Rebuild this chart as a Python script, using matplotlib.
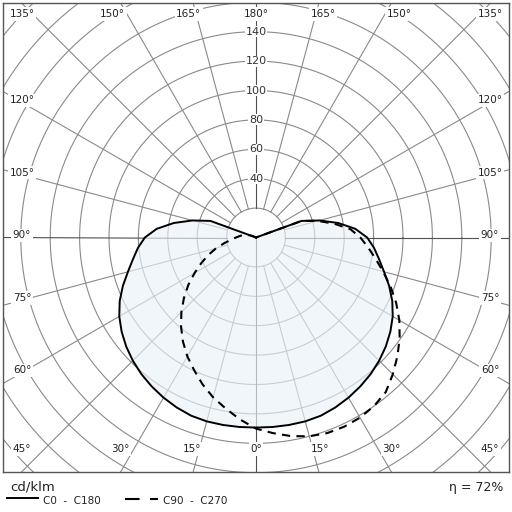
import numpy as np
import matplotlib
matplotlib.use('Agg')
import matplotlib.pyplot as plt
from matplotlib.lines import Line2D

# gamma angles (deg from nadir) and intensities in cd/klm
gamma = [0, 5, 10, 15, 20, 25, 30, 35, 40, 45, 50, 55, 60, 65, 70, 75, 80, 85,
         90, 95, 100, 105, 110, 115, 120, 135, 150, 165, 180]
c0_c180 = [129.3, 129.4, 129.5, 129.5, 129.0, 127.6, 125.8, 123.7, 121.3, 118.5, 115.3, 111.6,
           107.4, 102.3, 96.4, 90.2, 85.0, 80.6, 75.6, 67.8, 56.8, 44.8, 33.0, 0, 0, 0, 0, 0, 0]
c90 = [130.3, 133.6, 137.2, 140.0, 141.6, 142.0, 141.5, 140.0, 137.3, 131.6, 125.6, 119.3,
       112.6, 105.2, 97.4, 89.5, 82.5, 76.5, 71.0, 64.5, 54.0, 43.6, 33.0, 0, 0, 0, 0, 0, 0]
c270 = [130.0, 124.3, 118.2, 112.6, 106.3, 99.6, 93.4, 86.6, 79.3, 71.8, 64.0, 56.2, 48.2,
        41.0, 34.4, 28.0, 21.8, 17.0, 13.6, 11.2, 9.2, 7.0, 4.5, 2.0, 0, 0, 0, 0, 0]

ring_values = [40, 60, 80, 100, 120, 140]
eta_text = "\u03b7 = 72%"

PX = 1.47          # pixels per cd/klm
XL, YL = 506/2/PX, 469/2/PX
fig = plt.figure(figsize=(5.12, 5.12), dpi=100)
ax = fig.add_axes([3/512, 40/512, 506/512, 469/512])
ax.set_xlim(-XL, XL)
ax.set_ylim(-YL, YL)
ax.set_xticks([])
ax.set_yticks([])
for s in ax.spines.values():
    s.set_color('#555555')
    s.set_linewidth(1.0)

grid_c = '#8a8a8a'
t = np.linspace(0, 2*np.pi, 721)
for r in range(20, 260, 20):
    ax.plot(r*np.cos(t), r*np.sin(t), color=grid_c, lw=0.8, zorder=1)
R = 400
for a in range(0, 360, 15):
    rad = np.radians(a)
    r0 = 0 if a == 0 else 20
    col = '#505050' if a in (0, 90, 180, 270) else grid_c
    ax.plot([r0*np.sin(rad), R*np.sin(rad)], [-r0*np.cos(rad), -R*np.cos(rad)],
            color=col, lw=0.8, zorder=1)

for v in ring_values:
    ax.text(0, v, str(v), ha='center', va='center', fontsize=8, color='#333333', zorder=2,
            bbox=dict(boxstyle='square,pad=0.05', fc='white', ec='none'))

# curves on a transparent polar axes laid over the same centre and scale
RMAX = 150
cx, cy = 3 + 253, 40 + 234.5
rp = RMAX*PX
pax = fig.add_axes([(cx-rp)/512, (cy-rp)/512, 2*rp/512, 2*rp/512], projection='polar')
pax.set_theta_zero_location('S')
pax.set_theta_direction(1)
pax.set_rlim(0, RMAX)
pax.axis('off')
pax.patch.set_alpha(0)

g = np.radians(np.array(gamma, dtype=float))
th_s = np.concatenate([-g[::-1], g[1:]])
r_s = np.concatenate([np.array(c0_c180)[::-1], np.array(c0_c180)[1:]])
r_d = np.concatenate([np.array(c270)[::-1], np.array(c90)[1:]])

pax.fill(th_s, r_s, color='#eaf2fa', alpha=0.65, lw=0, zorder=3)
pax.plot(th_s, r_s, color='black', lw=1.4, zorder=4)
pax.plot(th_s, r_d, color='black', lw=1.5, linestyle=(0, (4, 3)), zorder=4)

# angle labels round the frame
ytop, ybot, xside = 152, -143.9, 159.2
lab = dict(fontsize=7.5, color='#222222', ha='center', va='center', zorder=5,
           bbox=dict(boxstyle='square,pad=0.15', fc='white', ec='none'))
for sgn in (-1, 1):
    for a in (15, 30):
        ax.text(sgn*(abs(ybot)*np.tan(np.radians(a))*1.1 + 1), ybot, "%d\u00b0" % a, **lab)
    for a in (150, 165):
        ax.text(sgn*(ytop*np.tan(np.radians(180-a))*1.1 + 1), ytop, "%d\u00b0" % a, **lab)
    for a in (60, 75, 90, 105, 120):
        ax.text(sgn*xside, -xside/np.tan(np.radians(a)) + 1.5, "%d\u00b0" % a, **lab)
    ax.text(sgn*xside, ybot, "45\u00b0", **lab)
    ax.text(sgn*xside, ytop, "135\u00b0", **lab)
ax.text(0, ybot, "0\u00b0", **lab)
ax.text(0, ytop, "180\u00b0", **lab)

# legend area below the frame
fig.text(10/512, 1-487/512, "cd/klm", fontsize=9.5, va='center', ha='left', color='#222222')
fig.add_artist(Line2D([7/512, 38/512], [1-497.7/512]*2, color='black', lw=1.4))
fig.text(43/512, 1-501.5/512, "C0  -  C180", fontsize=7.5, va='center', ha='left', color='#222222')
fig.add_artist(Line2D([125/512, 158/512], [1-498.5/512]*2, color='black', lw=1.5,
                      linestyle=(0, (7, 5))))
fig.text(163/512, 1-501.5/512, "C90  -  C270", fontsize=7.5, va='center', ha='left', color='#222222')
fig.text(503/512, 1-488/512, eta_text, fontsize=9, va='center', ha='right', color='#222222')

fig.savefig('out.png', dpi=100)
